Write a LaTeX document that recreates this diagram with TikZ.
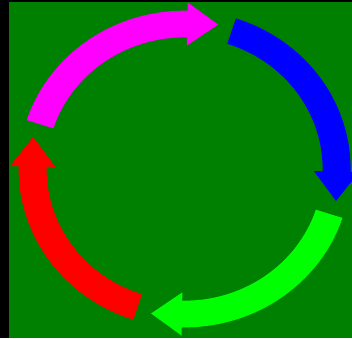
\documentclass[tikz,border=0pt]{standalone}
\definecolor{bggreen}{RGB}{0,128,0}
\definecolor{arlime}{RGB}{0,255,0}
\definecolor{armagenta}{RGB}{255,0,255}
\definecolor{arblue}{RGB}{0,0,255}
\definecolor{arred}{RGB}{255,0,0}
\begin{document}
\begin{tikzpicture}[x=1pt,y=1pt]
\clip (0,0) rectangle (352,338);
\fill[black] (0,0) rectangle (352,338);
\fill[bggreen] (9,0) rectangle (352,336);
\begin{scope}[shift={(184.6,169)}, xscale=152, yscale=145]
\foreach \a/\c in {90/armagenta,0/arblue,-90/arlime,180/arred} {
  \pgfmathsetmacro{\b}{\a-1}
  \fill[\c] (\a+72:1.092) arc[start angle=\a+72, end angle=\b, radius=1.092]
    -- (\b:1.149)
    -- ({cos(\b)+0.203*sin(\b)}, {sin(\b)-0.203*cos(\b)})
    -- (\b:0.851) -- (\b:0.908)
    arc[start angle=\b, end angle=\a+72, radius=0.908] -- cycle;
}
\end{scope}
\end{tikzpicture}
\end{document}
